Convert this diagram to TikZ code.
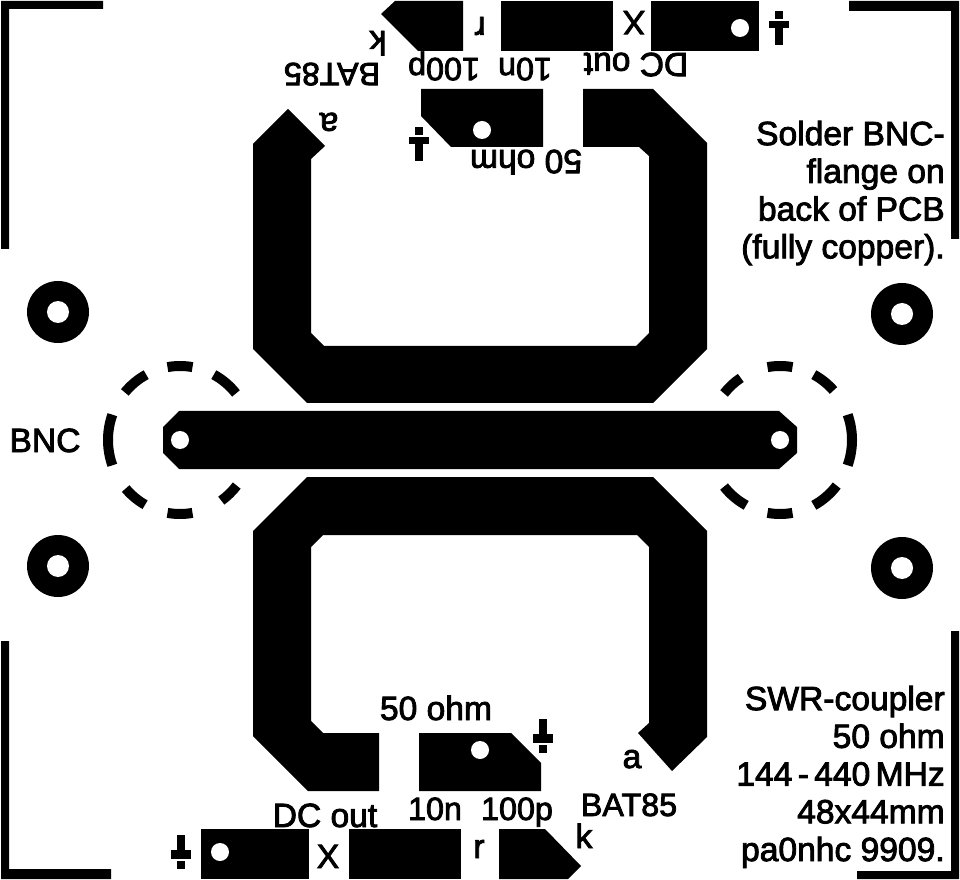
\documentclass[tikz,border=0pt]{standalone}
\usepackage{fontspec}
\newfontfamily\pcbfont[FakeBold=2.5]{Liberation Sans}
\tikzset{
  spoor/.style={fill=black},
  gat/.style={fill=white},
  rand/.style={draw=black, line width=7.5pt},
  tekst/.style={font=\pcbfont\fontsize{25.2}{28.3}\selectfont, inner sep=0pt, anchor=base},
  cijfer/.style={tekst, font=\pcbfont\fontsize{24.2}{28.3}\selectfont},
  kop/.style={rotate=180},
  info/.style={font=\pcbfont\fontsize{25.2}{28.3}\selectfont, inner sep=0pt, anchor=north east, align=right}
}
\begin{document}
\begin{tikzpicture}[x=0.75pt, y=-0.75pt]
        \useasboundingbox (0,0) rectangle (960,880);
        % Esquinas de la placa
        \fill[spoor] (1,249) |- (103,1) |- (9,9) |- cycle;
        \fill[spoor] (1,641) |- (111,879) |- (9,869) |- cycle;
        \fill[spoor] (849,1) -| (959,239) -| (951,11) -| cycle;
        \fill[spoor] (857,879) -| (959,631) -| (951,871) -| cycle;
        % Pista central
        \fill[spoor] (179,411) -- (779,411) -- (797,427) -- (797,453) -- (779,469) -- (179,469) -- (163,453) -- (163,427) -- cycle;
        % Lazo superior
        \fill[spoor] (288,109) -- (325,146) -- (311,159) -- (311,333) -- (324,346) -- (636,346) -- (649,333) -- (649,156) -- (639,147) -- (583,147) -- (583,89) -- (653,89) -- (707,143) -- (707,349) -- (653,403) -- (307,403) -- (253,349) -- (253,144) -- cycle;
        % Lazo inferior
        \fill[spoor] (672,771) -- (707,737) -- (707,531) -- (653,477) -- (307,477) -- (253,531) -- (253,736) -- (308,791) -- (379,791) -- (379,733) -- (323,733) -- (311,721) -- (311,547) -- (323,535) -- (637,535) -- (649,547) -- (649,723) -- (638,733) -- cycle;
        % Pads de arriba
        \fill[spoor] (381,14) -- (395,1) -- (463,1) -- (463,51) -- (418,51) -- cycle;
        \fill[spoor] (501,1) rectangle (613,51);
        \fill[spoor] (651,1) rectangle (759,51);
        \fill[spoor] (421,89) -- (543,89) -- (543,147) -- (451,147) -- (421,116) -- cycle;
        % Pads de abajo
        \fill[spoor] (201,829) rectangle (309,879);
        \fill[spoor] (349,829) rectangle (461,879);
        \fill[spoor] (499,829) -- (545,829) -- (581,866) -- (568,879) -- (499,879) -- cycle;
        \fill[spoor] (419,733) -- (511,733) -- (541,763) -- (541,791) -- (419,791) -- cycle;
        % Masa
        \foreach \x/\y in {779/11, 419/127} {
            \fill[spoor] (\x-4,\y) rectangle (\x+4,\y+8);
            \fill[spoor] (\x-10,\y+10) rectangle (\x+10,\y+17);
            \fill[spoor] (\x-4,\y+17) rectangle (\x+4,\y+34);
        }
        \foreach \x/\y in {181/869, 543/753} {
            \fill[spoor] (\x-4,\y) rectangle (\x+4,\y-8);
            \fill[spoor] (\x-10,\y-10) rectangle (\x+10,\y-19);
            \fill[spoor] (\x-4,\y-19) rectangle (\x+4,\y-34);
        }
        % Agujeros de montaje
        \foreach \x/\y in {58/312, 58/566, 902/314, 902/568} {
            \fill[spoor] (\x,\y) circle (31);
            \fill[gat] (\x,\y) circle (11);
        }
        % Agujeros de las pistas
        \foreach \x/\y in {180/440, 780/440, 482/130, 480/750, 740/28, 220/852} {
            \fill[gat] (\x,\y) circle (9);
        }
        % Contorno de los BNC
        \foreach \a/\b in {-200/-160, -140/-118, -100/-80, -62/-39, -322/-305, -280/-260, -241/-221} {
            \draw[rand] (180,440) ++(\a:72 and 74) arc[start angle=\a, end angle=\b, x radius=72, y radius=74];
        }
        \foreach \a/\b in {-20/20, -62/-42, -100/-80, -141/-123, -242/-219, -280/-260, -322/-298} {
            \draw[rand] (780,440) ++(\a:72 and 74) arc[start angle=\a, end angle=\b, x radius=72, y radius=74];
        }
        % Textos de abajo
        \node[tekst] (ohmB) at (436,720) {50 ohm};
        \node[tekst] (dcB) at (325,827) {DC out};
        \node[cijfer] (tenB) at (435,820) {10n};
        \node[cijfer] (hundredB) at (517,820) {100p};
        \node[tekst] (xB) at (328,868) {X};
        \node[tekst] (rB) at (479,858) {r};
        \node[tekst] (kB) at (584,848) {k};
        \node[tekst] (aB) at (632,768) {a};
        \node[cijfer] (batB) at (629,816) {BAT85};
        \node[tekst] (bnc) at (45,452) {BNC};
        % Textos de arriba, girados
        \node[tekst, kop] (ohmT) at (526,150) {50 ohm};
        \node[tekst, kop] (dcT) at (636,53) {DC out};
        \node[cijfer, kop] (tenT) at (525,58) {10n};
        \node[cijfer, kop] (hundredT) at (444,58) {100p};
        \node[tekst, kop] (xT) at (634,11) {X};
        \node[tekst, kop] (rT) at (480,17) {r};
        \node[tekst, kop] (kT) at (378,31) {k};
        \node[tekst, kop] (aT) at (329,113) {a};
        \node[cijfer, kop] (batT) at (332,63) {BAT85};
        % Notas
        \node[info] (solder) at (945,120.5) {Solder BNC-\\flange on\\back of PCB\\(fully copper).};
        \node[info] (swr) at (945,685.5) {SWR-coupler\\50 ohm\\144\hspace{-3pt} -\hspace{-3pt} 440\hspace{-3pt} MHz\\48x44mm\\pa0nhc 9909.};
    \end{tikzpicture}
\end{document}
